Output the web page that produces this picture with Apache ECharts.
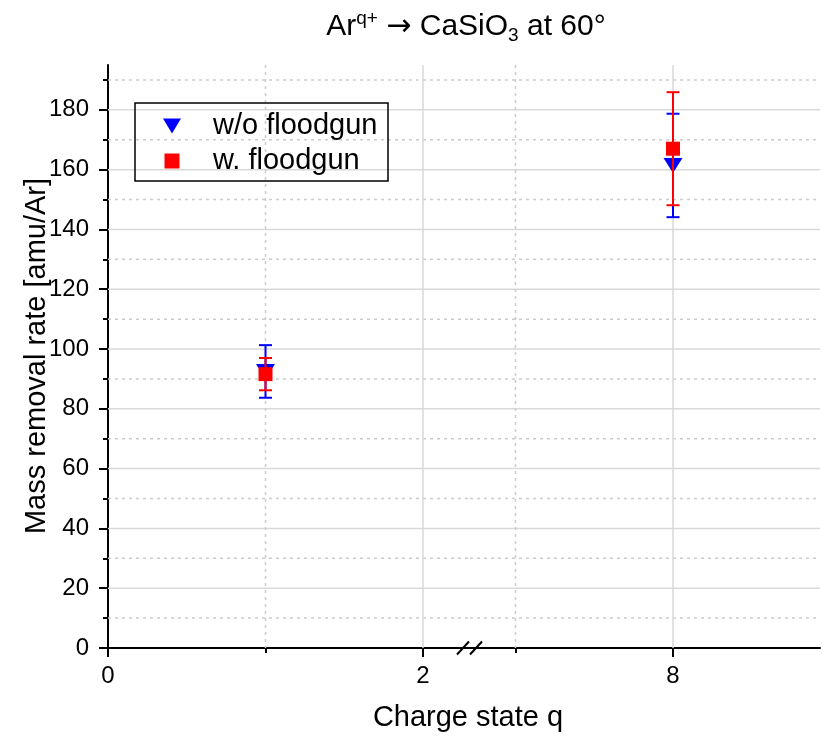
<!DOCTYPE html>
<html><head><meta charset="utf-8">
<script src="https://cdn.jsdelivr.net/npm/echarts@6/dist/echarts.min.js"></script>
<style>html,body{margin:0;padding:0;background:#fff}#c{width:822px;height:742px}</style>
</head><body><div id="c"></div>
<script>
// ---- data ----
const chargeStates = [1, 8];
const rateWithout = [92.5, 161.4];
const errWithout = [8.8, 17.3];
const rateWith = [91.6, 167.0];
const errWith = [5.4, 18.9];
const seriesNames = ['w/o floodgun', 'w. floodgun'];
const xMajorTicks = [0, 2, 8];
const xMinorTicks = [1, 7];
const yMajorTicks = [0, 20, 40, 60, 80, 100, 120, 140, 160, 180];
const yMinorTicks = [10, 30, 50, 70, 90, 110, 130, 150, 170, 190];
const segments = [[0, 2.2984], [6.7111, 8.9333]];
const yRange = [0, 195];

const FONT = 'Liberation Sans, Arial, sans-serif';
const BLUE = '#0000ff', RED = '#ff0000';
const gridBoxes = [
  {left: 108, top: 65, width: 362, height: 583},
  {left: 470, top: 65, width: 350, height: 583}
];
const inSeg = (v, s) => v >= segments[s][0] - 1e-9 && v <= segments[s][1] + 1e-9;

const xAxes = [], yAxes = [], series = [];
segments.forEach((seg, s) => {
  xAxes.push({
    gridIndex: s, type: 'value', min: seg[0], max: seg[1], position: 'bottom',
    axisLine: {show: true, onZero: false, lineStyle: {color: '#000', width: 2}},
    axisTick: {show: true, length: 9, lineStyle: {color: '#000', width: 2},
      customValues: xMajorTicks.filter(v => inSeg(v, s))},
    axisLabel: {show: true, customValues: xMajorTicks.filter(v => inSeg(v, s)),
      fontSize: 24, color: '#000', fontFamily: FONT, margin: 16},
    splitLine: {show: false}
  });
  xAxes.push({
    gridIndex: s, type: 'value', min: seg[0], max: seg[1], position: 'bottom', offset: 0,
    axisLine: {show: false, onZero: false},
    axisTick: {show: true, length: 5, lineStyle: {color: '#000', width: 2},
      customValues: xMinorTicks.filter(v => inSeg(v, s))},
    axisLabel: {show: false},
    splitLine: {show: false}
  });
});
yAxes.push({
  gridIndex: 0, type: 'value', min: yRange[0], max: yRange[1], position: 'left',
  axisLine: {show: true, onZero: false, lineStyle: {color: '#000', width: 2}},
  axisTick: {show: true, length: 9, lineStyle: {color: '#000', width: 2}, customValues: yMajorTicks},
  axisLabel: {show: true, customValues: yMajorTicks, fontSize: 24, color: '#000', fontFamily: FONT, margin: 19},
  splitLine: {show: false}
});
yAxes.push({
  gridIndex: 0, type: 'value', min: yRange[0], max: yRange[1], position: 'left', offset: 0,
  axisLine: {show: false, onZero: false},
  axisTick: {show: true, length: 5, lineStyle: {color: '#000', width: 2}, customValues: yMinorTicks},
  axisLabel: {show: false},
  splitLine: {show: false}
});
yAxes.push({
  gridIndex: 1, type: 'value', min: yRange[0], max: yRange[1], show: false
});
const yIdx = [0, 2];

// grid lines and data per segment
segments.forEach((seg, s) => {
  const gl = [];
  yMajorTicks.filter(v => v > yRange[0]).forEach(v => gl.push([v, 0]));
  yMinorTicks.forEach(v => gl.push([v, 1]));
  xMajorTicks.filter(v => inSeg(v, s) && v > segments[0][0]).forEach(v => gl.push([v, 2]));
  xMinorTicks.filter(v => inSeg(v, s)).forEach(v => gl.push([v, 3]));
  series.push({
    type: 'custom', xAxisIndex: 2 * s, yAxisIndex: yIdx[s], silent: true, z: 1,
    data: gl,
    renderItem: function (params, api) {
      const cs = params.coordSys;
      const v = api.value(0), kind = api.value(1);
      const solid = (kind === 0 || kind === 2);
      const style = solid
        ? {stroke: '#d9d9d9', lineWidth: 1.5}
        : {stroke: '#cccccc', lineWidth: 1.5, lineDash: [3, 4]};
      let shape;
      if (kind < 2) {
        const y = api.coord([segments[s][0], v])[1];
        shape = {x1: cs.x, y1: y, x2: cs.x + cs.width, y2: y};
      } else {
        const x = api.coord([v, yRange[0]])[0];
        shape = {x1: x, y1: cs.y, x2: x, y2: cs.y + cs.height};
      }
      return {type: 'line', shape: shape, style: style};
    }
  });

  const groups = [
    {name: seriesNames[0], mean: rateWithout, err: errWithout, color: BLUE,
     symbol: 'path://M0,0 L18,0 L9,15 Z', size: [19, 15], z: 3},
    {name: seriesNames[1], mean: rateWith, err: errWith, color: RED,
     symbol: 'path://M0,0 L14,0 L14,14 L0,14 Z', size: [14, 14], z: 5}
  ];
  groups.forEach(g => {
    const idx = chargeStates.map((c, i) => i).filter(i => inSeg(chargeStates[i], s));
    series.push({
      type: 'custom', name: g.name + ' err', xAxisIndex: 2 * s, yAxisIndex: yIdx[s], z: g.z, silent: true,
      data: idx.map(i => [chargeStates[i], g.mean[i], g.err[i]]),
      renderItem: function (params, api) {
        const x = api.value(0), m = api.value(1), e = api.value(2);
        const top = api.coord([x, m + e]);
        const bot = api.coord([x, m - e]);
        const hw = 6.5;
        const st = {stroke: g.color, lineWidth: 2};
        return {type: 'group', children: [
          {type: 'line', shape: {x1: top[0], y1: top[1], x2: bot[0], y2: bot[1]}, style: st},
          {type: 'line', shape: {x1: top[0] - hw, y1: top[1], x2: top[0] + hw, y2: top[1]}, style: st},
          {type: 'line', shape: {x1: bot[0] - hw, y1: bot[1], x2: bot[0] + hw, y2: bot[1]}, style: st}
        ]};
      }
    });
    series.push({
      type: 'scatter', name: g.name, xAxisIndex: 2 * s, yAxisIndex: yIdx[s], z: g.z + 1,
      symbol: g.symbol, symbolSize: g.size, symbolKeepAspect: false,
      itemStyle: {color: g.color, opacity: 1},
      data: idx.map(i => [chargeStates[i], g.mean[i]])
    });
  });
});

const chart = echarts.init(document.getElementById('c'), null, {renderer: 'canvas'});
chart.setOption({
  animation: false,
  backgroundColor: '#fff',
  grid: gridBoxes,
  xAxis: xAxes,
  yAxis: yAxes,
  legend: {
    data: seriesNames, orient: 'vertical', left: 135, top: 103,
    itemWidth: 60, itemHeight: 15, itemGap: 5, selectedMode: false, symbolKeepAspect: true,
    padding: [8, 10, 5, 28], borderColor: '#000', borderWidth: 1.5,
    textStyle: {fontSize: 29, color: '#000', fontFamily: FONT, lineHeight: 30, padding: [0, 0, 0, 6], width: 165}
  },
  series: series
});

const bp = chart.convertToPixel({xAxisIndex: 0, yAxisIndex: 0}, [segments[0][1], yRange[0]]);
const slash = (cx) => ({type: 'line', z: 100,
  shape: {x1: cx - 6, y1: bp[1] + 6.5, x2: cx + 6, y2: bp[1] - 6.5},
  style: {stroke: '#000', lineWidth: 2}});
chart.setOption({
  graphic: [
    slash(bp[0] - 7), slash(bp[0] + 6),
    {type: 'text', x: 466, y: 27, style: {
      text: '{a|Ar}{s|q+}{a| }{r|\u2192}{a| CaSiO}{b|3}{a| at 60\u00b0}',
      align: 'center', verticalAlign: 'middle', fill: '#000', fontFamily: FONT, fontSize: 30,
      rich: {
        a: {fontSize: 30, fontFamily: FONT, fill: '#000', lineHeight: 36},
        r: {fontSize: 30, fontFamily: 'DejaVu Sans', fill: '#000', lineHeight: 36},
        s: {fontSize: 19, fontFamily: FONT, fill: '#000', lineHeight: 16, verticalAlign: 'top'},
        b: {fontSize: 19, fontFamily: FONT, fill: '#000', lineHeight: 12, verticalAlign: 'bottom'}
      }}},
    {type: 'text', x: 37, y: 356, rotation: Math.PI / 2, style: {
      text: 'Mass removal rate [amu/Ar]', align: 'center', verticalAlign: 'middle',
      fill: '#000', fontFamily: FONT, fontSize: 29}},
    {type: 'text', x: 468, y: 718, style: {
      text: 'Charge state q', align: 'center', verticalAlign: 'middle',
      fill: '#000', fontFamily: FONT, fontSize: 29}}
  ]
});
</script>
</body></html>
